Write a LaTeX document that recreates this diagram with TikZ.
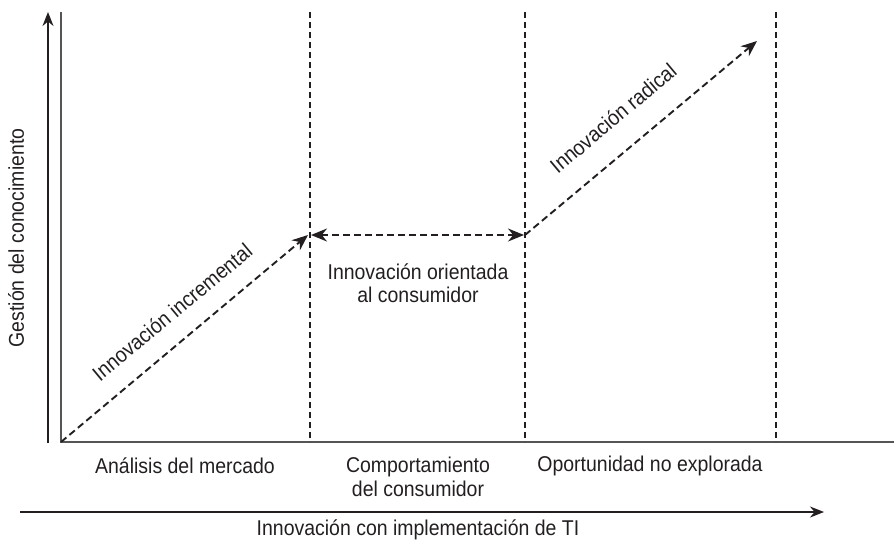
\documentclass[tikz,border=0pt]{standalone}
\usepackage{fontspec}
\setmainfont[FakeStretch=0.91]{Liberation Sans}
\usetikzlibrary{arrows.meta}
\definecolor{ink}{HTML}{231F20}
\definecolor{frame}{HTML}{555555}
\tikzset{
  lbl/.style={font=\fontsize{21.4}{23.5}\selectfont, text=ink, inner sep=0pt, align=center},
  axisarrow/.style={draw=ink, line width=1.4pt, -{Stealth[length=14pt,width=11pt]}},
  frameline/.style={draw=frame, line width=2pt},
  divider/.style={draw=ink, line width=1.9pt, dash pattern=on 6pt off 4pt},
  dasharrow/.style={draw=ink, line width=1.9pt, dash pattern=on 7pt off 4pt, -{Stealth[length=16pt,width=13pt]}},
  dashdouble/.style={draw=ink, line width=1.9pt, dash pattern=on 7pt off 4pt, {Stealth[length=16pt,width=13pt]}-{Stealth[length=16pt,width=13pt]}}
}
\begin{document}
\begin{tikzpicture}[x=1pt,y=-1pt]
\useasboundingbox (0,0) rectangle (894,539);
% coordinates
\coordinate (ybot) at (48,443);
\coordinate (ytop) at (48,12);
\coordinate (ftop) at (61,12);
\coordinate (origin) at (61,442);
\coordinate (fright) at (894,442);
\coordinate (d1t) at (310,12); \coordinate (d1b) at (310,442);
\coordinate (d2t) at (525,12); \coordinate (d2b) at (525,442);
\coordinate (d3t) at (776,12); \coordinate (d3b) at (776,442);
\coordinate (a1e) at (308,235);
\coordinate (a2s) at (311,235);
\coordinate (a2e) at (524,235);
\coordinate (a3s) at (525,235);
\coordinate (a3e) at (757,41);
\coordinate (xl) at (20,512);
\coordinate (xr) at (824,512);
% axes
\draw[axisarrow] (ybot) -- (ytop);
\draw[frameline] (ftop) -- (origin) -- (fright);
\draw[axisarrow] (xl) -- (xr);
% dividers
\draw[divider] (d1t) -- (d1b);
\draw[divider] (d2t) -- (d2b);
\draw[divider] (d3t) -- (d3b);
% arrows
\draw[dasharrow] (origin) -- (a1e);
\draw[dashdouble] (a2s) -- (a2e);
\draw[dasharrow] (a3s) -- (a3e);
% labels
\node[lbl, rotate=39.8] (tinc) at (172,312) {Innovación incremental};
\node[lbl, rotate=40] (trad) at (613,118) {Innovación radical};
\node[lbl] (tcons) at (418,283) {Innovación orientada\\al consumidor};
\node[lbl] (b1) at (185,466) {Análisis del mercado};
\node[lbl] (b2) at (418,477) {Comportamiento\\del consumidor};
\node[lbl] (b3) at (650,466) {Oportunidad no explorada};
\node[lbl] (xlab) at (418,530) {Innovación con implementación de TI};
\node[lbl, rotate=90] (ylab) at (16,238) {Gestión del conocimiento};
\end{tikzpicture}
\end{document}
